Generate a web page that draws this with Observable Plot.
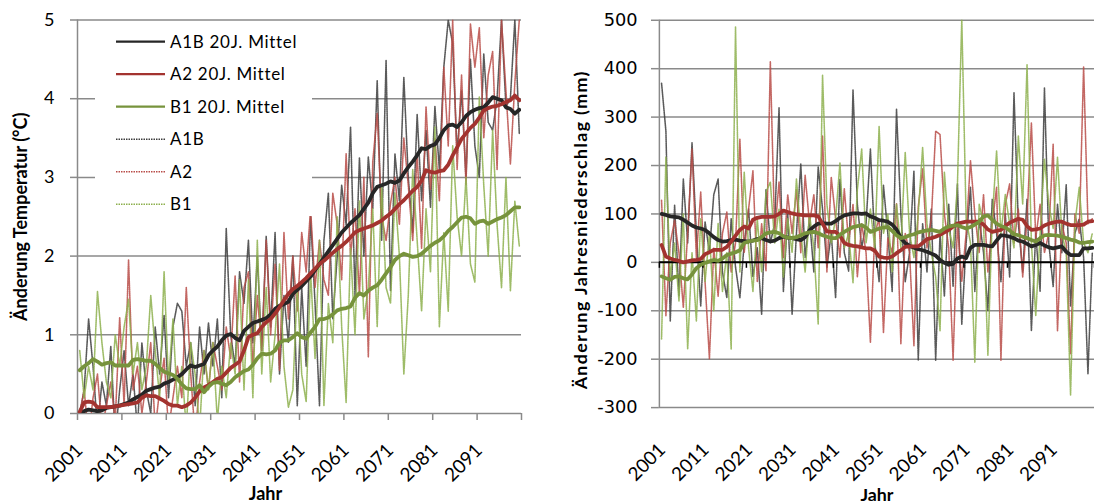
<!DOCTYPE html>
<html><head><meta charset="utf-8">
<script src="https://cdn.jsdelivr.net/npm/d3@7"></script>
<script src="https://cdn.jsdelivr.net/npm/@observablehq/plot@0.6"></script>
<style>
html,body{margin:0;padding:0;background:#fff;overflow:hidden;}
#wrap{position:relative;width:1094px;height:504px;overflow:hidden;font-family:Lato,sans-serif;}
#left{position:absolute;left:0;top:0;}
#right{position:absolute;left:560px;top:0;}
#legend{position:absolute;left:95px;top:22px;width:217px;height:194px;background:#fff;}
</style></head><body>
<div id="wrap"><div id="left"></div><div id="right"></div><div id="legend"></div></div>
<script>
// ---------- DATA ----------
const years = d3.range(2001, 2101);
const decadeTicks = d3.range(2000.5, 2101, 10);
const labelYears = d3.range(2001, 2100, 10);
const tempTicks = [0, 1, 2, 3, 4, 5];
const precTicks = [-300, -200, -100, 0, 100, 200, 300, 400, 500];
const legendLabels = ["A1B 20J. Mittel", "A2 20J. Mittel", "B1 20J. Mittel", "A1B", "A2", "B1"];

// Temperature change (°C), 20-year means
const tempA1B20 = [
 0.00,0.03,0.05,0.04,0.03,0.04,0.07,0.08,0.09,0.10,
 0.12,0.14,0.18,0.21,0.24,0.29,0.31,0.33,0.34,0.38,
 0.40,0.43,0.46,0.50,0.56,0.61,0.59,0.61,0.63,0.74,
 0.80,0.85,0.93,0.99,1.01,0.96,0.93,1.05,1.10,1.15,
 1.17,1.19,1.21,1.26,1.33,1.37,1.39,1.42,1.52,1.57,
 1.62,1.68,1.74,1.82,1.90,1.98,2.06,2.14,2.22,2.30,
 2.36,2.42,2.47,2.52,2.60,2.68,2.80,2.88,2.90,2.92,
 2.95,2.93,2.96,3.05,3.13,3.20,3.28,3.37,3.36,3.40,
 3.42,3.50,3.60,3.66,3.67,3.64,3.70,3.78,3.83,3.86,
 3.88,3.89,3.95,4.02,4.00,3.98,3.89,3.87,3.81,3.86];
const tempA2_20 = [
 0.02,0.14,0.15,0.14,0.08,0.08,0.08,0.08,0.09,0.10,
 0.11,0.12,0.13,0.14,0.20,0.23,0.22,0.22,0.19,0.16,
 0.12,0.10,0.10,0.08,0.10,0.14,0.20,0.28,0.33,0.36,
 0.40,0.44,0.46,0.52,0.58,0.62,0.66,0.80,0.97,1.00,
 1.02,1.10,1.16,1.20,1.27,1.35,1.44,1.52,1.58,1.62,
 1.67,1.72,1.78,1.84,1.90,1.94,1.99,2.04,2.09,2.13,
 2.18,2.24,2.30,2.33,2.35,2.37,2.39,2.42,2.45,2.50,
 2.54,2.60,2.66,2.71,2.77,2.83,2.88,2.96,3.09,3.07,
 3.06,3.08,3.09,3.16,3.28,3.38,3.49,3.56,3.63,3.68,
 3.76,3.85,3.88,3.90,3.91,3.93,3.96,3.98,4.04,3.98];
const tempB1_20 = [
 0.55,0.60,0.64,0.69,0.66,0.62,0.64,0.65,0.61,0.61,
 0.61,0.61,0.68,0.69,0.68,0.67,0.67,0.63,0.58,0.53,
 0.51,0.49,0.44,0.37,0.32,0.31,0.31,0.36,0.27,0.34,
 0.39,0.40,0.38,0.36,0.40,0.46,0.50,0.54,0.56,0.62,
 0.70,0.76,0.75,0.76,0.80,0.90,0.93,0.93,0.97,1.02,
 0.97,0.95,1.03,1.10,1.20,1.20,1.22,1.26,1.31,1.33,
 1.34,1.36,1.47,1.53,1.50,1.56,1.60,1.63,1.70,1.78,
 1.86,1.95,2.00,2.03,2.01,1.99,2.00,2.03,2.08,2.13,
 2.17,2.20,2.25,2.32,2.37,2.43,2.49,2.50,2.48,2.41,
 2.44,2.45,2.41,2.44,2.47,2.49,2.52,2.57,2.62,2.62];
// Temperature change (°C), annual values
const tempA1B = [
 0.0,0.3,1.2,0.6,-0.2,0.4,0.1,0.85,-0.3,0.3,
 0.8,0.1,0.5,-0.2,0.9,0.3,0.0,1.1,0.5,1.25,
 0.2,1.1,1.4,1.3,0.6,0.9,0.1,1.1,0.5,1.15,
 0.6,1.2,0.2,2.35,1.0,0.6,1.8,1.4,2.2,0.9,
 2.0,0.8,2.25,1.1,2.3,0.5,1.5,0.9,2.0,0.1,
 1.6,0.6,2.5,1.4,0.1,2.2,2.8,1.2,2.0,2.9,
 2.4,3.64,1.5,3.25,2.0,3.26,2.6,4.23,2.2,4.49,
 1.56,3.3,2.7,4.27,3.0,2.3,3.8,2.7,3.6,2.62,
 3.9,3.1,4.4,5.0,4.7,3.3,4.1,3.0,4.5,3.4,
 3.0,4.57,3.7,3.6,4.0,5.0,3.9,4.0,5.0,3.56];
const tempA2 = [
 0.0,0.3,-0.3,0.2,0.5,-0.2,0.1,0.4,-0.1,1.22,
 0.1,1.95,0.3,0.6,0.0,0.4,0.9,-0.2,0.3,0.7,
 -0.2,0.2,0.6,0.2,1.6,0.5,-0.3,0.4,0.8,0.3,
 0.9,0.6,0.3,1.1,0.7,1.75,0.4,1.6,1.8,0.6,
 1.5,0.8,2.2,1.0,1.9,0.55,2.3,1.2,2.0,1.3,
 2.3,1.8,2.6,1.6,2.2,1.7,1.5,2.8,2.4,1.7,
 3.3,2.0,2.6,1.5,3.0,0.72,3.2,3.81,2.5,2.2,
 2.67,3.0,2.4,3.5,2.9,2.2,3.3,2.1,3.9,2.85,
 3.5,2.7,4.4,3.4,5.0,3.1,4.3,2.9,4.95,4.4,
 4.9,3.5,4.3,4.6,3.1,5.0,4.1,3.17,4.2,5.0];
const tempB1 = [
 0.8,0.2,0.6,0.3,1.55,0.9,0.4,0.2,1.0,0.6,
 1.1,1.45,0.5,0.9,0.3,0.6,1.5,0.8,0.2,1.8,
 0.4,1.2,0.1,0.6,-0.2,0.9,0.5,-0.2,0.8,0.3,
 0.9,-0.1,0.6,0.2,0.9,0.5,1.7,0.3,1.7,0.2,
 2.2,0.5,1.6,0.4,1.0,1.9,0.6,0.08,0.3,1.6,
 0.5,0.15,1.8,0.7,2.2,0.1,1.4,0.9,2.5,1.1,
 0.14,2.1,1.0,2.7,1.2,1.6,2.6,1.1,2.9,1.6,
 1.4,2.8,2.0,0.5,1.5,3.1,2.2,1.3,2.6,1.8,
 3.64,1.1,2.3,1.3,3.4,2.5,2.0,3.0,1.9,1.67,
 4.02,2.9,2.0,3.6,2.4,1.6,3.0,1.56,2.7,2.13];

// Precipitation change (mm), 20-year means
const precA1B20 = [
 100,98,95,94,93,88,82,76,72,70,
 67,60,52,46,43,44,46,47,45,44,
 43,45,48,50,46,43,45,50,53,51,
 50,48,46,52,66,74,80,81,80,80,
 85,92,97,99,101,101,100,101,95,92,
 87,86,84,78,68,50,40,34,30,27,
 25,22,18,14,5,-1,-5,-3,8,12,
 9,30,36,36,36,34,33,45,56,55,
 53,50,45,43,38,33,36,40,35,31,
 29,31,33,22,15,15,15,29,29,30];
const precA2_20 = [
 36,12,8,5,3,0,2,4,5,7,
 17,21,26,26,26,32,43,55,67,74,
 70,88,92,94,94,94,95,100,107,104,
 101,99,98,97,97,97,95,80,64,63,
 63,55,40,36,34,33,31,29,29,24,
 12,10,9,12,19,25,32,33,33,33,
 40,48,50,53,57,62,67,74,80,82,
 84,84,84,84,78,68,63,65,67,75,
 82,86,90,88,75,67,68,70,76,80,
 82,84,84,80,77,77,77,78,84,85];
const precB1_20 = [
 -29,-33,-36,-30,-29,-33,-35,-25,-12,-5,
 -1,2,5,3,8,15,18,21,25,40,
 43,45,46,52,60,62,63,60,54,51,
 50,52,56,60,62,63,60,56,53,50,
 50,57,63,68,73,75,77,72,63,66,
 70,72,73,65,56,50,52,56,58,62,
 64,66,67,65,63,70,74,76,77,73,
 70,73,78,84,95,97,88,80,75,72,
 66,58,56,53,50,46,43,50,56,57,
 56,55,53,50,47,45,41,40,42,43];
// Precipitation change (mm), annual values
const precA1B = [
 370,271,-121,118,-69,172,40,247,60,-90,
 84,20,140,172,-20,-73,90,-10,-73,40,
 110,-30,30,-107,150,40,80,319,-60,100,
 -107,60,203,10,90,-20,197,110,-10,60,
 -73,172,20,-18,356,120,30,80,234,40,
 -40,159,60,-60,316,100,-40,20,189,-202,
 80,-20,110,-202,60,-70,120,-50,162,-128,
 40,155,-60,90,20,-100,130,60,-40,100,
 -30,350,80,-20,130,-141,60,-60,360,40,
 -50,120,20,160,-90,60,90,10,-230,20];
const precA2 = [
 128,-110,40,87,20,-93,60,234,10,145,
 -40,-199,30,-70,60,104,-20,40,254,20,
 110,189,-40,80,-18,414,60,166,10,140,
 60,150,20,180,80,140,30,261,-20,176,
 90,10,152,40,120,-30,80,20,-165,60,
 90,-145,50,20,121,-168,60,20,-172,115,
 193,30,90,271,264,100,30,-202,80,-39,
 60,210,100,20,140,-20,80,155,-202,120,
 162,40,110,-30,90,288,50,120,20,60,
 244,-141,80,40,-189,100,60,404,80,90];
const precB1 = [
 -158,217,-30,40,-80,100,-179,20,-121,90,
 -40,60,-100,80,-60,20,-179,486,-20,186,
 30,-60,90,-20,145,166,40,110,-30,90,
 20,172,60,-20,100,30,-128,387,120,40,
 90,206,30,60,-42,150,234,40,110,30,
 281,60,100,-20,120,30,227,60,10,100,
 237,80,20,-30,-141,186,70,30,160,503,
 90,40,-206,120,80,-192,90,230,60,140,
 80,30,261,120,408,40,-110,60,213,120,
 70,217,60,20,-274,80,155,40,20,60];

// ---------- STYLE ----------
const C = {
  blackS: "#262626", redS: "#a3332f", greenS: "#77933c",
  blackR: "#3d3d3d", redR: "#b84c48", greenR: "#8db04e",
  grid: "#8a8a8a"
};
const rows = arr => years.map((y, i) => ({year: y, v: arr[i]}));
const rawLine = (arr, c) => Plot.line(rows(arr), {x: "year", y: "v", clip: true, stroke: c,
  strokeWidth: 1.6, strokeDasharray: "1.2,0.9", strokeOpacity: 0.85});
const smoothLine = (arr, c) => Plot.line(rows(arr), {x: "year", y: "v", clip: true, stroke: c,
  strokeWidth: 3.8, strokeLinejoin: "round"});
const font = "Lato, sans-serif";

// ---------- LEFT: temperature ----------
const left = Plot.plot({
  width: 540, height: 504,
  marginLeft: 77, marginRight: 19, marginTop: 19.5, marginBottom: 91,
  x: {domain: [2000.5, 2100.5]},
  y: {domain: [0, 5]},
  style: {fontFamily: font, color: "#000", background: "transparent", overflow: "visible"},
  marks: [
    Plot.ruleY(tempTicks.slice(1), {stroke: C.grid, strokeWidth: 1.5}),
    Plot.axisY({ticks: tempTicks, tickSize: 7, tickPadding: 16, stroke: C.grid, strokeWidth: 1.5,
      fill: "#000", fontSize: 18, fontFamily: font, tickFormat: d => String(d), label: null}),
    Plot.axisX({ticks: decadeTicks, tickSize: 7, tickFormat: () => "", stroke: C.grid, strokeWidth: 1.5, label: null}),
    Plot.ruleX([2000.5], {stroke: C.grid, strokeWidth: 1.5}),
    Plot.ruleY([0], {stroke: C.grid, strokeWidth: 1.5}),
    rawLine(tempA1B, C.blackR),
    rawLine(tempA2, C.redR),
    rawLine(tempB1, C.greenR),
    smoothLine(tempA1B20, C.blackS),
    smoothLine(tempA2_20, C.redS),
    smoothLine(tempB1_20, C.greenS),
    Plot.text(labelYears, {x: d => d, text: d => String(d), frameAnchor: "bottom", rotate: -45,
      textAnchor: "end", lineAnchor: "bottom", dx: 4, dy: 38, fontSize: 19, fontFamily: font}),
    Plot.text(["Jahr"], {frameAnchor: "bottom", dx: -34, dy: 86, lineAnchor: "bottom",
      fontWeight: "bold", fontSize: 18, fontFamily: font}),
    Plot.text(["Änderung Temperatur (°C)"], {frameAnchor: "left", rotate: -90, dx: -56,
      textAnchor: "middle", fontWeight: "bold", fontSize: 18, fontFamily: font})
  ]
});
document.getElementById("left").appendChild(left);

// ---------- RIGHT: precipitation ----------
const right = Plot.plot({
  width: 540, height: 504,
  marginLeft: 100, marginRight: 0, marginTop: 20, marginBottom: 92.3,
  x: {domain: [2000.5, 2100.5], axis: null},
  y: {domain: [-300, 500]},
  style: {fontFamily: font, color: "#000", background: "transparent", overflow: "visible"},
  marks: [
    Plot.ruleY(precTicks, {stroke: C.grid, strokeWidth: 1.5}),
    Plot.axisY({ticks: precTicks, tickSize: 8, tickPadding: 14, stroke: C.grid, strokeWidth: 1.5,
      fill: "#000", fontSize: 18, fontFamily: "DejaVu Sans", tickFormat: d => String(d), label: null}),
    Plot.ruleX([2000.5], {stroke: C.grid, strokeWidth: 1.5}),
    rawLine(precA1B, C.blackR),
    rawLine(precA2, C.redR),
    rawLine(precB1, C.greenR),
    Plot.ruleY([0], {stroke: "#000", strokeWidth: 2}),
    Plot.ruleX(decadeTicks, {y1: 0, y2: 0, insetBottom: -6, stroke: "#000", strokeWidth: 1.5}),
    smoothLine(precA1B20, C.blackS),
    smoothLine(precA2_20, C.redS),
    smoothLine(precB1_20, C.greenS),
    Plot.text(labelYears, {x: d => d, text: d => String(d), frameAnchor: "bottom", rotate: -45,
      textAnchor: "end", lineAnchor: "bottom", dx: 5, dy: 44, fontSize: 19, fontFamily: font}),
    Plot.text(["Jahr"], {frameAnchor: "bottom", dx: 0, dy: 94, lineAnchor: "bottom",
      fontWeight: "bold", fontSize: 18, fontFamily: font}),
    Plot.text(["Änderung Jahresniederschlag (mm)"], {frameAnchor: "left", rotate: -90, dx: -79, dy: 16,
      textAnchor: "middle", fontWeight: "bold", fontSize: 18, fontFamily: font})
  ]
});
d3.select(right).selectAll("text")
  .filter(function() { return this.textContent.startsWith("Änderung Jahres"); })
  .attr("letter-spacing", "1.4px");
document.getElementById("right").appendChild(right);

// ---------- LEGEND ----------
const legendItems = [
  {c: C.blackS, solid: true}, {c: C.redS, solid: true}, {c: C.greenS, solid: true},
  {c: C.blackR, solid: false}, {c: C.redR, solid: false}, {c: C.greenR, solid: false}
].map((d, i) => ({...d, label: legendLabels[i]}));
const lg = d3.select("#legend").append("svg").attr("width", 217).attr("height", 194);
const rowGap = 32.5;
const item = lg.selectAll("g").data(legendItems).join("g")
  .attr("transform", (d, i) => `translate(0,${19.7 + i * rowGap})`);
item.append("line").attr("x1", 21).attr("x2", 70).attr("y1", 0).attr("y2", 0)
  .attr("stroke", d => d.c).attr("stroke-width", d => d.solid ? 2.2 : 1.5)
  .attr("stroke-dasharray", d => d.solid ? null : "1.5,1");
item.append("text").attr("x", 75).attr("y", 0).attr("dy", "0.35em")
  .attr("font-family", font).attr("font-size", 17).attr("letter-spacing", "0.7px")
  .attr("fill", "#000").text(d => d.label);
</script>
</body></html>
